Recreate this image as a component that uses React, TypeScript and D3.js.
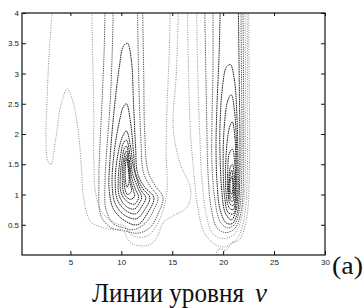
import { useEffect, useRef } from 'react'
import * as d3 from 'd3'

type Contour = { level: number; points: [number, number][] }

const xDomain = [0.25, 30]
const yDomain = [0, 4]
const xTicks = [5, 10, 15, 20, 25, 30]
const yTicks = [0.5, 1, 1.5, 2, 2.5, 3, 3.5, 4]

// closed level curves around the left maximum (x ~ 10.5, y ~ 1.3)
const leftLoops: Contour[] = [
  { level: 0.6, points: [[10.6,3.5],[11.0,3.2],[11.2,2.5],[11.4,1.8],[11.6,1.35],[12.3,1.12],[13.2,0.95],[12.6,0.7],[11.6,0.5],[10.3,0.57],[9.2,0.77],[8.8,1.1],[8.9,1.6],[9.3,2.4],[9.8,3.1],[10.2,3.45]] },
  { level: 0.7, points: [[10.5,2.5],[10.9,2.2],[11.2,1.7],[11.4,1.35],[12.1,1.1],[12.8,0.95],[12.3,0.75],[11.5,0.6],[10.3,0.66],[9.4,0.85],[9.1,1.15],[9.3,1.7],[9.8,2.2],[10.2,2.45]] },
  { level: 0.8, points: [[10.5,2.05],[10.9,1.8],[11.2,1.45],[11.9,1.08],[12.4,0.95],[12.0,0.8],[11.4,0.68],[10.4,0.74],[9.6,0.92],[9.4,1.2],[9.6,1.6],[10.1,1.95]] },
  { level: 0.9, points: [[10.5,1.9],[10.9,1.6],[11.1,1.35],[11.7,1.08],[12.0,0.95],[11.7,0.84],[11.3,0.76],[10.5,0.8],[9.8,0.98],[9.7,1.25],[9.9,1.6],[10.2,1.85]] },
  { level: 1.0, points: [[10.5,1.8],[10.8,1.55],[11.0,1.3],[11.4,1.08],[11.7,0.96],[11.3,0.84],[10.6,0.88],[10.0,1.02],[9.9,1.3],[10.1,1.6],[10.3,1.76]] },
  { level: 1.1, points: [[10.5,1.72],[10.8,1.45],[10.9,1.25],[11.2,1.06],[11.3,0.97],[10.9,0.92],[10.3,1.0],[10.1,1.25],[10.2,1.55]] },
  { level: 1.2, points: [[10.5,1.65],[10.75,1.4],[10.85,1.2],[11.0,1.05],[10.6,1.0],[10.35,1.1],[10.25,1.35],[10.35,1.58]] },
  { level: 1.3, points: [[10.5,1.6],[10.7,1.4],[10.75,1.2],[10.55,1.12],[10.4,1.25],[10.4,1.45]] },
]

// level curves that leave through the top edge
const leftOpen: Contour[] = [
  { level: 0.5, points: [[9.2,4.0],[9.1,3.3],[8.9,2.5],[8.6,1.8],[8.4,1.2],[8.5,0.75],[9.2,0.52],[10.2,0.45],[11.3,0.42],[12.5,0.55],[13.2,0.75],[13.6,0.95],[12.9,1.12],[12.2,1.35],[11.9,2.0],[11.7,3.0],[11.6,4.0]] },
  { level: 0.4, points: [[8.4,4.0],[8.3,3.3],[8.1,2.5],[7.9,1.8],[7.8,1.2],[8.0,0.65],[9.0,0.45],[10.3,0.4],[11.6,0.36],[12.8,0.45],[13.6,0.68],[14.1,0.95],[13.3,1.15],[12.6,1.4],[12.3,2.0],[12.2,3.0],[12.1,4.0]] },
  { level: 0.2, points: [[7.1,4.0],[7.2,3.2],[7.3,2.4],[7.3,1.6],[7.5,1.0],[8.2,0.68],[9.5,0.52],[10.4,0.47],[10.8,0.36],[11.5,0.3],[12.6,0.32],[13.5,0.5],[14.2,0.8],[14.5,1.1],[14.4,1.7],[14.5,2.5],[14.7,3.3],[14.8,4.0]] },
  { level: 0.1, points: [[3.2,4.0],[2.9,3.3],[2.7,2.5],[2.6,1.9],[2.8,1.55],[3.1,1.5],[3.5,1.85],[4.1,2.5],[4.7,2.75],[5.3,2.5],[5.8,2.0],[6.1,1.4],[6.3,0.95],[7.0,0.55],[8.5,0.44],[10.2,0.4],[10.6,0.27],[11.3,0.17],[12.8,0.17],[13.5,0.3],[14.2,0.55],[14.9,0.63],[16.5,0.8],[16.8,1.1],[15.8,1.5],[15.1,2.1],[15.4,3.0],[15.6,4.0]] },
]

// closed level curves around the right maximum (x ~ 20.8, y ~ 1.1)
const rightLoops: Contour[] = [
  { level: 0.7, points: [[20.7,3.15],[21.1,2.9],[21.35,2.3],[21.45,1.6],[21.45,1.0],[21.2,0.7],[20.8,0.58],[20.2,0.7],[19.9,1.0],[19.7,1.6],[19.7,2.2],[19.95,2.8],[20.3,3.1]] },
  { level: 0.8, points: [[20.8,2.65],[21.1,2.4],[21.3,1.9],[21.35,1.3],[21.3,0.9],[21.0,0.68],[20.5,0.7],[20.15,0.95],[20.0,1.5],[20.1,2.1],[20.45,2.55]] },
  { level: 0.9, points: [[20.9,2.2],[21.15,1.95],[21.25,1.5],[21.25,1.05],[21.0,0.75],[20.6,0.78],[20.3,1.0],[20.25,1.5],[20.45,1.95],[20.7,2.15]] },
  { level: 1.0, points: [[20.9,1.75],[21.15,1.5],[21.2,1.15],[21.0,0.82],[20.7,0.84],[20.45,1.05],[20.45,1.4],[20.6,1.68]] },
  { level: 1.1, points: [[20.9,1.5],[21.1,1.3],[21.12,1.05],[20.9,0.88],[20.6,0.95],[20.55,1.2],[20.7,1.45]] },
  { level: 1.2, points: [[20.85,1.4],[21.0,1.2],[20.95,0.97],[20.75,0.94],[20.6,1.1],[20.7,1.33]] },
  { level: 1.3, points: [[20.85,1.3],[20.95,1.15],[20.85,1.0],[20.7,1.05],[20.7,1.22]] },
]

const rightOpen: Contour[] = [
  { level: 0.6, points: [[19.7,4],[19.6,3.3],[19.4,2.5],[19.3,1.8],[19.4,1.2],[19.7,0.75],[20.3,0.53],[20.9,0.52],[21.4,0.7],[21.6,1.1],[21.65,1.8],[21.6,2.6],[21.55,3.3],[21.5,4]] },
  { level: 0.5, points: [[19.0,4],[19.0,3],[18.9,2.2],[18.9,1.5],[19.2,0.9],[19.7,0.55],[20.4,0.45],[21.1,0.5],[21.6,0.75],[21.8,1.2],[21.85,2.0],[21.8,3.0],[21.75,4]] },
  { level: 0.4, points: [[18.2,4],[18.3,3],[18.4,2.1],[18.5,1.4],[18.8,0.8],[19.4,0.45],[20.3,0.37],[21.2,0.45],[21.8,0.75],[21.98,1.2],[22.02,2.0],[22.0,3.0],[21.95,4]] },
  { level: 0.3, points: [[17.4,4],[17.5,3],[17.7,2.0],[17.9,1.3],[18.3,0.7],[19.0,0.35],[20.1,0.27],[21.2,0.36],[21.9,0.7],[22.15,1.2],[22.2,2.0],[22.2,3.0],[22.15,4]] },
  { level: 0.2, points: [[16.5,4],[16.6,3],[16.8,2.0],[17.1,1.4],[17.5,0.8],[18.2,0.35],[19.5,0.15],[20.5,0.15],[21.5,0.3],[22.1,0.65],[22.35,1.2],[22.4,2.0],[22.4,3.0],[22.35,4]] },
  { level: 0.15, points: [[19.3,0],[19.6,0.1],[20.3,0.08],[20.8,0.2],[21.6,0.25],[22.3,0.6],[22.55,1.2],[22.6,2.0],[22.55,3.0],[22.5,4]] },
]

function styleFor(level: number) {
  if (level >= 0.6) return { stroke: '#222', dash: '1.6 0.7', w: 1 }
  if (level >= 0.4) return { stroke: '#4a4a4a', dash: '1.3 1', w: 0.95 }
  return { stroke: '#8c8c8c', dash: '1 1.4', w: 1 }
}

export default function App() {
  const axRef = useRef<SVGGElement>(null)
  const width = 364
  const height = 308
  const x = d3.scaleLinear().domain(xDomain).range([22, 325])
  const y = d3.scaleLinear().domain(yDomain).range([255, 13])

  const openLine = d3.line<[number, number]>()
    .x(d => x(d[0])).y(d => y(d[1]))
    .curve(d3.curveCatmullRom.alpha(0.5))
  const closedLine = d3.line<[number, number]>()
    .x(d => x(d[0])).y(d => y(d[1]))
    .curve(d3.curveCatmullRomClosed.alpha(0.5))

  useEffect(() => {
    const g = d3.select(axRef.current)
    g.selectAll('*').remove()
    const style = (ax: any) => {
      ax.select('.domain').remove()
      ax.selectAll('line').attr('stroke', '#111')
      ax.selectAll('text')
        .attr('fill', '#1a1a1a')
        .attr('font-size', '8px')
        .attr('font-family', 'Liberation Sans Narrow, Liberation Sans, Arial, sans-serif')
    }
    g.append('g').attr('transform', 'translate(22,0)')
      .call(d3.axisLeft(y).tickValues(yTicks).tickSizeInner(-4).tickSizeOuter(0).tickPadding(3).tickFormat(d3.format('')))
      .call(style)
    g.append('g').attr('transform', 'translate(0,255)')
      .call(d3.axisBottom(x).tickValues(xTicks).tickSizeInner(-4).tickSizeOuter(0).tickPadding(4))
      .call(style)
    // mirror ticks, no labels
    g.append('g').attr('transform', 'translate(325,0)')
      .call(d3.axisRight(y).tickValues(yTicks).tickSizeInner(-4).tickSizeOuter(0).tickFormat(() => ''))
      .call(style)
    g.append('g').attr('transform', 'translate(0,13)')
      .call(d3.axisTop(x).tickValues(xTicks).tickSizeInner(-3).tickSizeOuter(0).tickFormat(() => ''))
      .call(style)
    g.append('rect')
      .attr('x', 22).attr('y', 13).attr('width', 303).attr('height', 242)
      .attr('fill', 'none').attr('stroke', '#111').attr('stroke-width', 1.2)
  }, [])

  const loops = [...leftLoops, ...rightLoops]
  const opens = [...leftOpen, ...rightOpen]
  const serif = 'Liberation Serif, Times New Roman, serif'

  return (
    <svg width={width} height={height} style={{ position: 'absolute', left: 0, top: 0, background: '#fff' }}>
      <defs>
        <clipPath id="plot"><rect x={22} y={13} width={303} height={242} /></clipPath>
      </defs>
      <g clipPath="url(#plot)" fill="none">
        {opens.map((c, i) => {
          const s = styleFor(c.level)
          return <path key={'o' + i} d={openLine(c.points) || ''} stroke={s.stroke} strokeWidth={s.w} strokeDasharray={s.dash} />
        })}
        {loops.map((c, i) => {
          const s = styleFor(c.level)
          return <path key={'l' + i} d={closedLine(c.points) || ''} stroke={s.stroke} strokeWidth={s.w} strokeDasharray={s.dash} />
        })}
      </g>
      <g ref={axRef} />
      <text x={332} y={274} fontFamily={serif} fontSize={26} fill="#111" textLength={31} lengthAdjust="spacingAndGlyphs">(a)</text>
      <text x={92} y={302} fontFamily={serif} fontSize={27} fill="#111" textLength={152} lengthAdjust="spacingAndGlyphs">Линии уровня</text>
      <text x={255} y={302} fontFamily={serif} fontSize={27} fontStyle="italic" fill="#111">ν</text>
    </svg>
  )
}
